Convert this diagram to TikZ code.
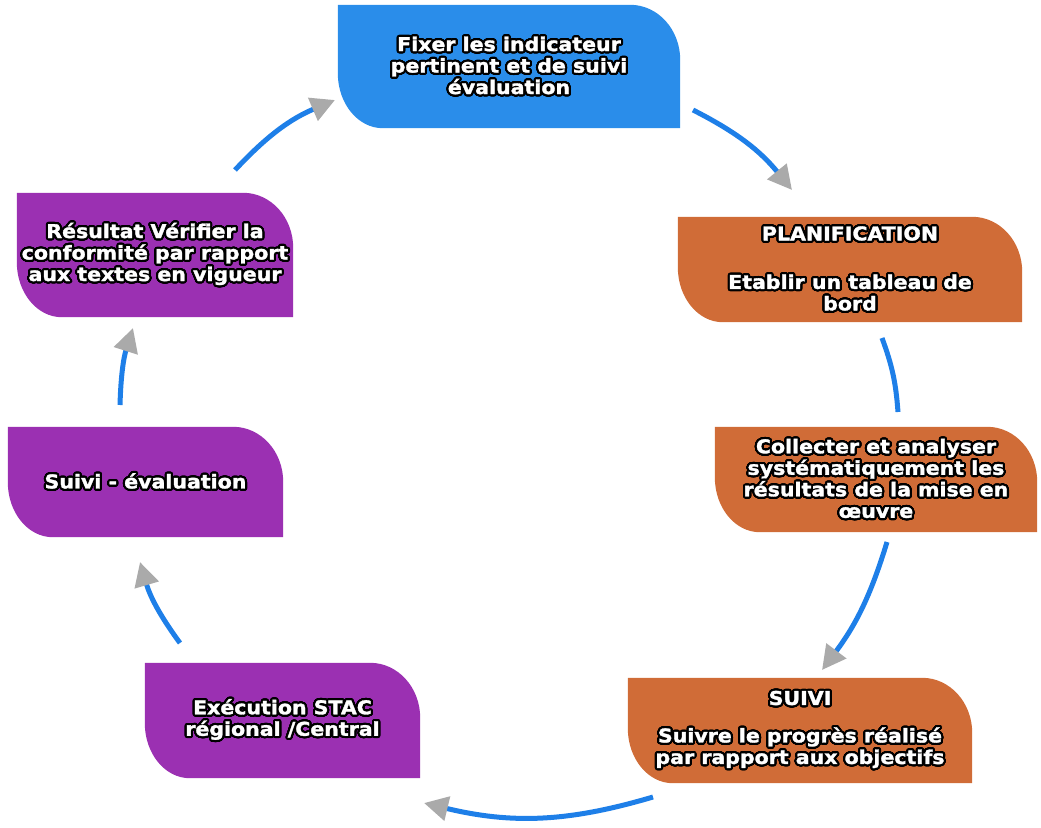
\documentclass[tikz,border=0pt]{standalone}
\usepackage{fontspec}
\usepackage{contour}
\usetikzlibrary{arrows.meta,backgrounds}
\newfontfamily\boxfont[FakeStretch=1.08,FakeBold=1.6]{DejaVu Sans}
\contourlength{2.1pt}
\contournumber{32}
\newcommand\outl[1]{\contour{black}{#1}}
\definecolor{fixblue}{HTML}{2A8DEA}
\definecolor{planorange}{HTML}{D06C37}
\definecolor{stacpurple}{HTML}{9B30B2}
\definecolor{loopblue}{HTML}{1E7FE8}
\definecolor{tipgray}{HTML}{AAAAAA}

\begin{document}
\begin{tikzpicture}[x=1pt,y=-1pt,
          every node/.style={font=\boxfont\bfseries\fontsize{19}{21.5}\selectfont},
          leaf/.style={rectangle,inner sep=0pt,align=center,text=white},
          loop/.style={line width=5pt,loopblue},
          looptip/.style={loop,-{Triangle[length=24pt,width=24pt,color=tipgray]}}]
        \useasboundingbox (0,0) rectangle (1041,827);

        \node[leaf,minimum width=342pt,minimum height=123pt] (fix) at (509,66.5)
          {\outl{Fixer les indicateur}\\\outl{pertinent et de suivi}\\\outl{évaluation}};
        \node[leaf,minimum width=344pt,minimum height=105pt] (plan) at (850,269.5)
          {\outl{PLANIFICATION}\\[27pt]\outl{Etablir un tableau de}\\\outl{bord}};
        \node[leaf,minimum width=322pt,minimum height=105pt] (coll) at (876,479.5)
          {\outl{Collecter et analyser}\\\outl{systématiquement les}\\\outl{résultats de la mise en}\\\outl{œuvre}};
        \node[leaf,minimum width=344pt,minimum height=105pt] (suivi) at (800,730.5)
          {\outl{SUIVI}\\[16pt]\outl{Suivre le progrès réalisé}\\\outl{par rapport aux objectifs}};
        \node[leaf,minimum width=275pt,minimum height=115pt] (exec) at (282.5,720.5)
          {\outl{Exécution STAC}\\\outl{régional /Central}};
        \node[leaf,minimum width=275pt,minimum height=110pt] (seval) at (145.5,482)
          {\outl{Suivi - évaluation}};
        \node[leaf,minimum width=276pt,minimum height=124pt] (res) at (155,255)
          {\outl{Résultat Vérifier la}\\\outl{conformité par rapport}\\\outl{aux textes en vigueur}};

        % leaf shaped backgrounds
        \begin{scope}[on background layer]
          \foreach \n/\c in {fix/fixblue,plan/planorange,coll/planorange,suivi/planorange,
                             exec/stacpurple,seval/stacpurple,res/stacpurple}{
            \fill[\c] (\n.north west) -- ([xshift=-50pt]\n.north east)
              arc[start angle=90,end angle=0,x radius=50pt,y radius=55pt]
              -- (\n.south east) -- ([xshift=45pt]\n.south west)
              arc[start angle=-90,end angle=-180,x radius=45pt,y radius=55pt] -- cycle;
          }
        \end{scope}

        \coordinate (a1) at (235,170);  \coordinate (b1) at (335,100);
        \coordinate (a2) at (693,110);  \coordinate (b2) at (792,190);
        \coordinate (a3) at (882,338);  \coordinate (b3) at (898,412);
        \coordinate (a4) at (887,542);  \coordinate (b4) at (822,670);
        \coordinate (a5) at (653,797);  \coordinate (b5) at (424,803);
        \coordinate (a6) at (180,643);  \coordinate (b6) at (140,562);
        \coordinate (a7) at (120,405);  \coordinate (b7) at (133,328);

        \draw[looptip] (a1) to[bend left=12] (b1);
        \draw[looptip] (a2) to[bend left=12] (b2);
        \draw[loop] (a3) to[bend left=8] (b3);
        \draw[looptip] (a4) to[bend left=10] (b4);
        \draw[looptip] (a5) to[bend left=15] (b5);
        \draw[looptip] (a6) to[bend left=10] (b6);
        \draw[looptip] (a7) to[bend left=8] (b7);
      \end{tikzpicture}
\end{document}
